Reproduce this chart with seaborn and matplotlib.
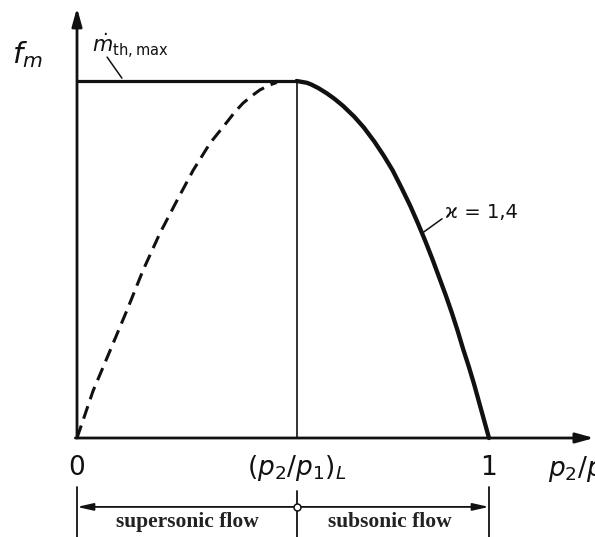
import matplotlib
matplotlib.use("Agg")
import matplotlib.pyplot as plt
from matplotlib import font_manager
import seaborn as sns
import pandas as pd

# Pressure ratio p2/p1 and normalised mass-flow function f_m (kappa = 1.4)
critical_ratio = 0.533
max_flow = 1.0

# subsonic branch (solid), from the critical ratio to p2/p1 = 1
subsonic_ratio = [0.533, 0.558, 0.569, 0.586, 0.607, 0.625, 0.646, 0.673,
                  0.696, 0.722, 0.745, 0.766, 0.788, 0.809, 0.828, 0.846,
                  0.863, 0.879, 0.895, 0.910, 0.924, 0.937, 0.951, 0.964,
                  0.976, 0.988, 1.000]
subsonic_flow = [1.000, 0.995, 0.990, 0.980, 0.965, 0.950, 0.930, 0.900,
                 0.870, 0.830, 0.790, 0.750, 0.700, 0.650, 0.600, 0.550,
                 0.500, 0.450, 0.400, 0.350, 0.300, 0.250, 0.200, 0.150,
                 0.100, 0.050, 0.000]

# theoretical continuation below the critical ratio (dashed)
nozzle_ratio = [0.000, 0.039, 0.080, 0.121, 0.160, 0.201, 0.243, 0.282,
                0.323, 0.364, 0.383, 0.403, 0.425, 0.444, 0.466, 0.485]
nozzle_flow = [0.000, 0.132, 0.244, 0.357, 0.469, 0.573, 0.666, 0.750,
               0.826, 0.885, 0.913, 0.938, 0.959, 0.975, 0.988, 0.996]

# choked plateau
plateau_ratio = [0.0, critical_ratio]
plateau_flow = [max_flow, max_flow]

tick_positions = [0.0, critical_ratio, 1.0]
tick_labels = ["0", r"$(p_2/p_1)_L$", "1"]
region_labels = ["supersonic flow", "subsonic flow"]

sns.set_theme(style="white")
plt.rcParams["mathtext.fontset"] = "dejavusans"

installed = {f.name for f in font_manager.fontManager.ttflist}
narrow = "Liberation Sans Narrow" if "Liberation Sans Narrow" in installed else "DejaVu Sans"
plt.rcParams["font.family"] = [narrow, "DejaVu Sans"]

fig = plt.figure(figsize=(5.95, 5.37), dpi=100)
ax = fig.add_axes([0, 0, 1, 1])
ax.set_xlim(-0.1869, 1.2573)
ax.set_ylim(-0.2773, 1.2269)
ax.axis("off")

ink = "#111111"

sub_df = pd.DataFrame({"ratio": subsonic_ratio, "flow": subsonic_flow})
noz_df = pd.DataFrame({"ratio": nozzle_ratio, "flow": nozzle_flow})
plat_df = pd.DataFrame({"ratio": plateau_ratio, "flow": plateau_flow})

sns.lineplot(data=plat_df, x="ratio", y="flow", ax=ax, color=ink, lw=2.3,
             estimator=None, solid_capstyle="butt")
sns.lineplot(data=sub_df, x="ratio", y="flow", ax=ax, color=ink, lw=3.1,
             estimator=None, solid_capstyle="round", solid_joinstyle="round")
sns.lineplot(data=noz_df, x="ratio", y="flow", ax=ax, color=ink, lw=2.2,
             estimator=None, linestyle=(0, (4.3, 2.4)))

# critical-ratio marker line
ax.plot([critical_ratio, critical_ratio], [0, max_flow], color=ink, lw=1.2)

# axes with arrowheads
arrow = dict(arrowstyle="-|>,head_length=0.9,head_width=0.25", color=ink,
             lw=2.0, shrinkA=0, shrinkB=0)
ax.annotate("", xy=(0, 1.205), xytext=(0, 0), arrowprops=arrow)
ax.annotate("", xy=(1.255, 0), xytext=(-0.004, 0), arrowprops=arrow)

# axis titles
ax.text(-0.121, 1.073, r"$f_m$", fontsize=21, ha="center", va="center", color=ink)
ax.text(1.143, -0.086, r"$p_2/p_1$", fontsize=19, ha="left", va="center", color=ink)

# tick labels
for pos, lab in zip(tick_positions, tick_labels):
    ax.text(pos, -0.083, lab, fontsize=19, ha="center", va="center", color=ink)

# annotations with leader lines
ax.text(0.036, 1.100, r"$\dot{m}_{\mathrm{th,max}}$", fontsize=15,
        ha="left", va="center", color=ink)
ax.plot([0.073, 0.109], [1.067, 1.008], color=ink, lw=1.1)
ax.text(0.893, 0.632, "ϰ = 1,4", fontsize=14, ha="left", va="center", color=ink)
ax.plot([0.838, 0.886], [0.574, 0.614], color=ink, lw=1.1)

# flow-regime bracket below the axis
y_br = -0.193
dbl = dict(arrowstyle="-|>,head_length=0.8,head_width=0.18", color=ink,
           lw=1.3, shrinkA=0, shrinkB=0)
ax.annotate("", xy=(0.0, y_br), xytext=(critical_ratio, y_br), arrowprops=dbl)
ax.annotate("", xy=(1.0, y_br), xytext=(critical_ratio, y_br), arrowprops=dbl)
for pos in tick_positions:
    top = -0.148 if pos == critical_ratio else -0.137
    ax.plot([pos, pos], [top, -0.30], color=ink, lw=1.3, clip_on=False)
ax.plot([critical_ratio], [y_br], marker="o", ms=5, mfc="white", mec=ink,
        mew=1.1, zorder=5)

serif = dict(family="Liberation Serif", fontweight="bold", fontsize=15.5,
             ha="center", va="center", color="#222222")
ax.text(0.267, -0.235, region_labels[0], **serif)
ax.text(0.760, -0.235, region_labels[1], **serif)

fig.savefig("out.png", dpi=100)
